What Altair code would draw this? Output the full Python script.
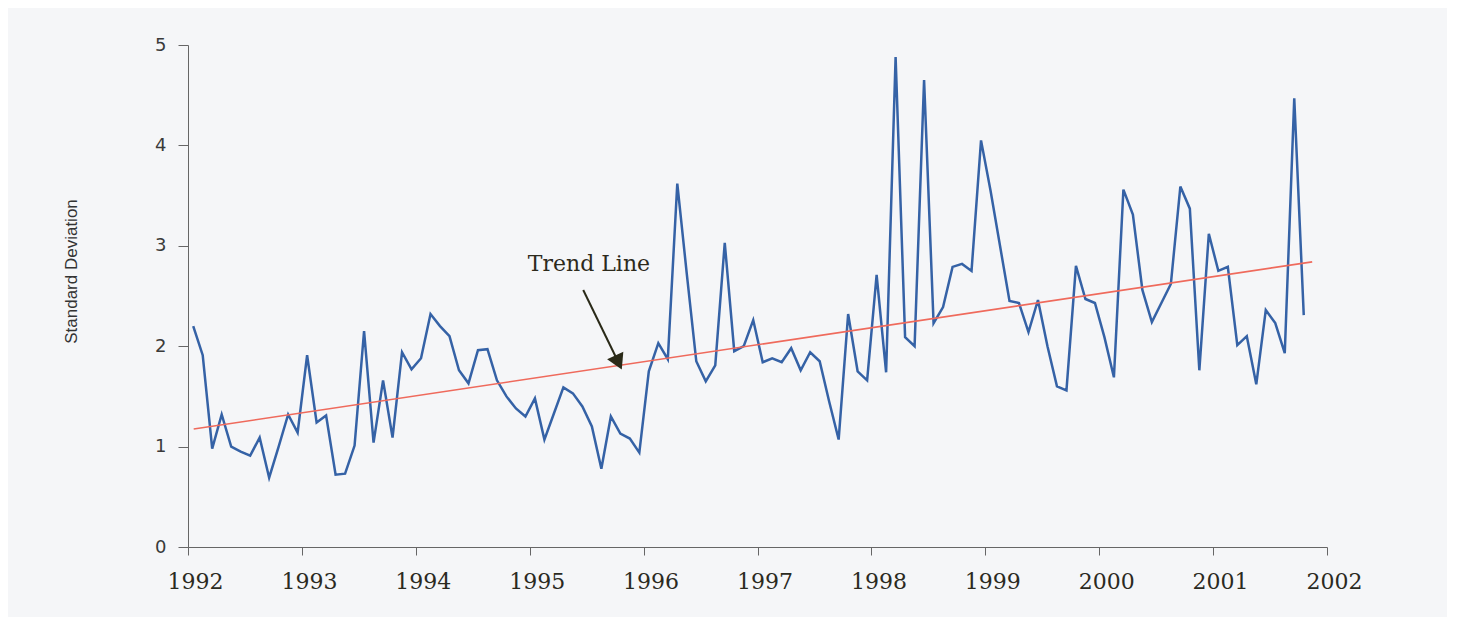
import altair as alt
import pandas as pd

# Monthly standard deviation, Jan 1992 .. Oct 2001
std_values = [
    2.20, 1.91, 0.98, 1.32, 1.00, 0.95, 0.91, 1.09, 0.69, 1.00, 1.32, 1.14,   # 1992
    1.91, 1.24, 1.31, 0.72, 0.73, 1.01, 2.15, 1.04, 1.66, 1.09, 1.94, 1.77,   # 1993
    1.88, 2.32, 2.20, 2.10, 1.76, 1.63, 1.96, 1.97, 1.66, 1.50, 1.38, 1.30,   # 1994
    1.48, 1.07, 1.33, 1.59, 1.53, 1.40, 1.20, 0.78, 1.30, 1.13, 1.08, 0.94,   # 1995
    1.75, 2.03, 1.87, 3.62, 2.72, 1.85, 1.65, 1.81, 3.03, 1.95, 2.00, 2.26,   # 1996
    1.84, 1.88, 1.84, 1.98, 1.76, 1.94, 1.85, 1.45, 1.07, 2.32, 1.75, 1.66,   # 1997
    2.71, 1.74, 4.88, 2.09, 2.00, 4.65, 2.23, 2.39, 2.79, 2.82, 2.75, 4.05,   # 1998
    3.55, 3.00, 2.45, 2.43, 2.14, 2.46, 2.00, 1.60, 1.56, 2.80, 2.47, 2.43,   # 1999
    2.09, 1.69, 3.56, 3.31, 2.56, 2.24, 2.43, 2.62, 3.59, 3.37, 1.76, 3.12,   # 2000
    2.75, 2.79, 2.01, 2.10, 1.62, 2.36, 2.23, 1.93, 4.47, 2.31,               # 2001
]
start_year = 1992
month_offset = 0.55

trend_x = [1992.05, 2001.87]
trend_y = [1.175, 2.84]

year_ticks = list(range(1992, 2003))
y_ticks = [0, 1, 2, 3, 4, 5]

annot_text = ["Trend Line"]
annot_x = [1995.52]
annot_y = [2.82]
arrow_x = [1995.47]
arrow_y = [2.56]
arrow_x2 = [1995.77]
arrow_y2 = [1.86]
arrow_angle = [155]

series = pd.DataFrame({
    "t": [start_year + (i + month_offset) / 12 for i in range(len(std_values))],
    "v": std_values,
})
trend = pd.DataFrame({"t": trend_x, "v": trend_y})
annot = pd.DataFrame({"t": annot_x, "v": annot_y, "label": annot_text})
arrow = pd.DataFrame({"t": arrow_x, "v": arrow_y, "t2": arrow_x2, "v2": arrow_y2,
                      "angle": arrow_angle})

x_scale = alt.Scale(domain=[1992, 2002], nice=False, zero=False)
y_scale = alt.Scale(domain=[0, 5], nice=False)

x_enc = alt.X("t:Q", scale=x_scale, axis=alt.Axis(
    values=year_ticks, format="d", title=None, grid=False,
    labelFont="DejaVu Serif", labelFontSize=22, labelColor="#2b2a1f",
    labelPadding=16, labelOffset=7, tickSize=8, tickColor="#666", domainColor="#666",
    labelFlush=False, labelOverlap=False))
y_enc = alt.Y("v:Q", scale=y_scale, axis=alt.Axis(
    values=y_ticks, format="d", title="Standard Deviation", grid=False,
    labelFont="DejaVu Sans", labelFontSize=18, labelColor="#3a3a3a",
    labelPadding=12, tickSize=10, tickColor="#666", domainColor="#666",
    titleFont="Liberation Sans", titleFontSize=17, titleFontWeight="normal",
    titleColor="#333", titleX=-108, titleY=226, titleAngle=270))

line = alt.Chart(series).mark_line(color="#3562a6", strokeWidth=2.5,
                                   strokeJoin="miter").encode(x=x_enc, y=y_enc)

trend_line = alt.Chart(trend).mark_line(color="#ef6a5c", strokeWidth=1.6).encode(
    x="t:Q", y="v:Q")

text = alt.Chart(annot).mark_text(font="DejaVu Serif", fontSize=22,
                                  color="#2d2a1c", align="center",
                                  baseline="middle").encode(
    x="t:Q", y="v:Q", text="label:N")

arrow_shaft = alt.Chart(arrow).mark_rule(color="#2a2a18", strokeWidth=2).encode(
    x="t:Q", y="v:Q", x2="t2:Q", y2="v2:Q")

arrow_head = alt.Chart(arrow).mark_point(shape="triangle", filled=True,
                                         color="#2a2a18", size=320,
                                         opacity=1).encode(
    x=alt.X("t2:Q"), y=alt.Y("v2:Q"), angle=alt.Angle("angle:Q", scale=None))

chart = alt.layer(line, trend_line, text, arrow_shaft, arrow_head).properties(
    width=1139, height=502,
    autosize=alt.AutoSizeParams(type="none"),
    padding={"left": 180, "top": 37, "right": 120, "bottom": 70},
    background="#f5f6f8",
).configure_view(stroke=None)

chart.save("out.html", embed_options={"renderer": "svg", "actions": False})
